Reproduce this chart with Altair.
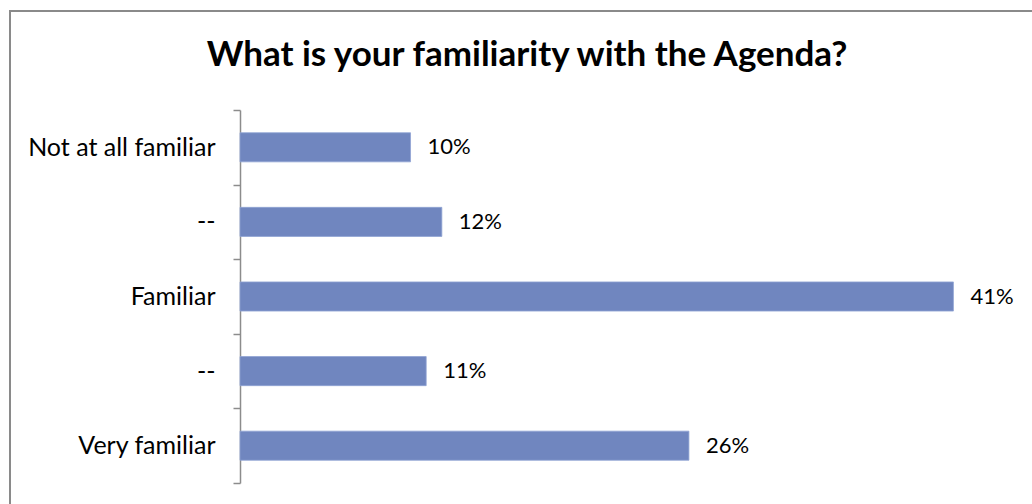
import altair as alt
import pandas as pd

categories = ["Not at all familiar", "--", "Familiar", "--", "Very familiar"]
keys = ["a", "b", "c", "d", "e"]
values = [9.8, 11.6, 41.0, 10.7, 25.8]
labels = ["10%", "12%", "41%", "11%", "26%"]
title_text = "What is your familiarity with the Agenda?"

df = pd.DataFrame({"key": keys, "cat": categories, "value": values, "label": labels})

FONT = "Lato"
BAR = "#7086BF"

label_expr = "{" + ", ".join(f"'{k}': '{c}'" for k, c in zip(keys, categories)) + "}[datum.value]"

y_enc = alt.Y(
    "key:N",
    sort=keys,
    scale=alt.Scale(paddingInner=0, paddingOuter=0),
    axis=alt.Axis(
        title=None,
        labelExpr=label_expr,
        labelFont=FONT,
        labelFontSize=25,
        labelColor="#000000",
        labelPadding=18,
        labelLimit=400,
        tickSize=7,
        tickColor="#8C8C8C",
        tickWidth=1.5,
        tickBand="extent",
        domainColor="#8C8C8C",
        domainWidth=1.5,
        grid=False,
    ),
)

x_enc = alt.X("value:Q", scale=alt.Scale(domain=[0, 45], nice=False), axis=None)

bars = alt.Chart(df).mark_bar(
    color=BAR, stroke="#8FA3D3", strokeWidth=0.8, height={"band": 0.39}
).encode(y=y_enc, x=x_enc)

text = alt.Chart(df).mark_text(
    align="left", baseline="middle", dx=17, font=FONT, fontSize=22, color="#000000"
).encode(y=alt.Y("key:N", sort=keys), x="value:Q", text="label:N")

title = alt.Chart(alt.Data(values=[{"t": title_text}])).mark_text(
    font=FONT, fontSize=35, fontWeight="bold", align="center", baseline="alphabetic", color="#000000"
).encode(x=alt.value(287), y=alt.value(-44), text="t:N")

border = alt.Chart(alt.Data(values=[{}])).mark_rect(
    fill=None, stroke="#8A8A8A", strokeWidth=2
).encode(x=alt.value(-230), x2=alt.value(820), y=alt.value(-99), y2=alt.value(420))

chart = alt.layer(border, bars, text, title).properties(
    width=783,
    height=373,
    autosize=alt.AutoSizeParams(type="none"),
    padding={"left": 240, "top": 110, "right": 9, "bottom": 21},
    background="#FFFFFF",
).configure_view(stroke=None)

chart.save("out.html", embed_options={"renderer": "svg", "actions": False})
